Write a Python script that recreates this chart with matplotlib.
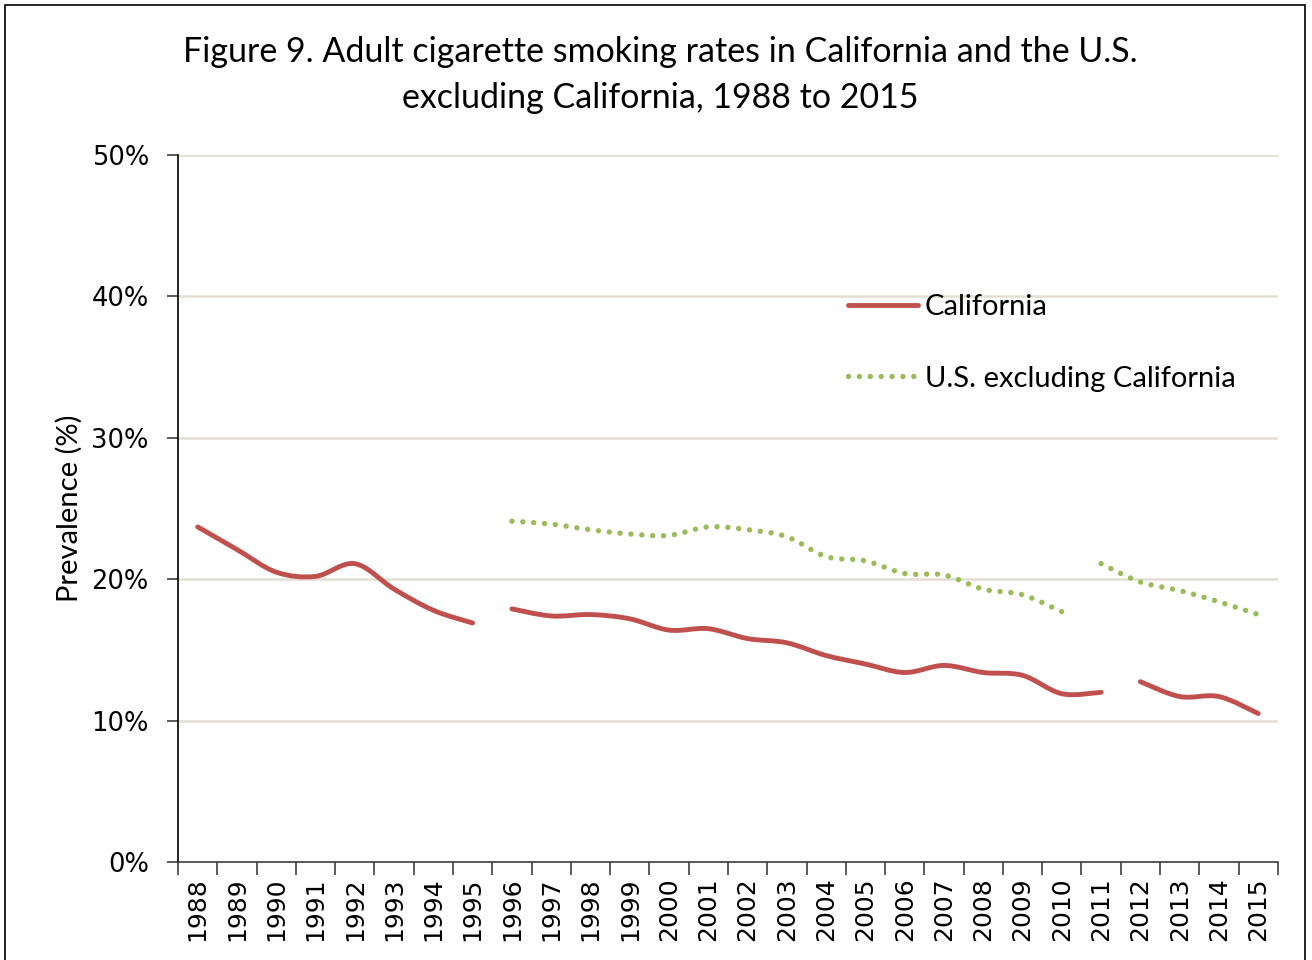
import numpy as np
import matplotlib.pyplot as plt
from matplotlib.path import Path
from matplotlib.patches import PathPatch, Rectangle
from matplotlib.lines import Line2D
from matplotlib.ticker import FuncFormatter

# Data (percent prevalence)
years = list(range(1988, 2016))
california = [23.7, 22.1, 20.5, 20.2, 21.1, 19.3, 17.8, 16.9,
              17.9, 17.4, 17.5, 17.2, 16.4, 16.5, 15.8, 15.5, 14.6, 14.0,
              13.4, 13.9, 13.4, 13.2, 11.9, 12.0,
              12.75, 11.7, 11.7, 10.5]
# segment breaks (survey method changes): index where a new run starts
ca_breaks = [8, 24]
us_excl_ca = [np.nan] * 8 + [24.1, 23.9, 23.5, 23.2, 23.1, 23.7, 23.5, 23.0, 21.6, 21.3,
                             20.4, 20.3, 19.3, 18.9, 17.7,
                             21.1, 19.8, 19.2, 18.4, 17.5]
us_breaks = [23]

red = '#C0504D'
green = '#9BBB59'
grid_col = '#E3DED3'


def runs(values, breaks):
    # split a series into continuous runs of (x, y) pairs
    idx = [i for i, v in enumerate(values) if not np.isnan(v)]
    out, cur = [], []
    for i in idx:
        if cur and (i in breaks or i != cur[-1][0] + 1):
            out.append(cur)
            cur = []
        cur.append((i, values[i]))
    if cur:
        out.append(cur)
    return out


def smooth_path(pts):
    # Catmull-Rom style cubic Bezier path through the points (like Excel smoothing)
    p = np.array(pts, dtype=float)
    ext = np.vstack([p[0], p, p[-1]])
    verts = [tuple(p[0])]
    codes = [Path.MOVETO]
    for i in range(1, len(ext) - 2):
        c1 = ext[i] + (ext[i + 1] - ext[i - 1]) / 6
        c2 = ext[i + 1] - (ext[i + 2] - ext[i]) / 6
        verts += [tuple(c1), tuple(c2), tuple(ext[i + 1])]
        codes += [Path.CURVE4] * 3
    return Path(verts, codes)


dots = (0, (0.01, 2.0))

plt.rcParams['font.family'] = 'DejaVu Sans'
fig = plt.figure(figsize=(13.12, 9.6), dpi=100)
ax = fig.add_axes([0.1357, 0.1021, 0.974 - 0.1357, 0.8385 - 0.1021])

for seg in runs(california, ca_breaks):
    ax.add_patch(PathPatch(smooth_path(seg), fill=False, edgecolor=red, lw=3.5,
                           capstyle='round', joinstyle='round', zorder=3))
for seg in runs(us_excl_ca, us_breaks):
    ax.add_patch(PathPatch(smooth_path(seg), fill=False, edgecolor=green, lw=3.9,
                           linestyle=dots, capstyle='round', zorder=3))

ax.set_xlim(-0.5, len(years) - 0.5)
ax.set_ylim(0, 50)
ax.set_yticks([0, 10, 20, 30, 40, 50])
ax.yaxis.set_major_formatter(FuncFormatter(lambda v, _: f'{v:.0f}%'))
ax.grid(axis='y', color=grid_col, lw=1.8, zorder=0)
ax.set_axisbelow(True)

ax.set_xticks(np.arange(-0.5, len(years)), labels=[''] * (len(years) + 1))
ax.set_xticks(np.arange(len(years)), labels=[str(y) for y in years], minor=True)
ax.tick_params(axis='x', which='major', length=9, width=1.2, color='#404040', direction='out')
ax.tick_params(axis='x', which='minor', length=0, labelsize=18, labelrotation=90, pad=11)
ax.tick_params(axis='y', length=8, width=1.2, color='#404040', labelsize=18.5, pad=13)

for s in ['top', 'right']:
    ax.spines[s].set_visible(False)
ax.spines['left'].set_color('black')
ax.spines['bottom'].set_color('#404040')
ax.spines['left'].set_linewidth(1.2)
ax.spines['bottom'].set_linewidth(1.2)

ax.set_ylabel('Prevalence (%)', fontsize=21, family='Lato', labelpad=6)

fig.suptitle('Figure 9. Adult cigarette smoking rates in California and the U.S.\n'
             'excluding California, 1988 to 2015',
             x=0.503, y=0.963, fontsize=24.5, family='Lato', linespacing=1.55)

handles = [Line2D([], [], color=red, lw=3.5, solid_capstyle='round'),
           Line2D([], [], color=green, lw=3.9, linestyle=dots,
                  dash_capstyle='round')]
ax.legend(handles, ['California', 'U.S. excluding California'],
          loc='upper left', bbox_to_anchor=(0.585, 0.84), frameon=False,
          prop={'family': 'Lato', 'size': 21}, handlelength=2.4,
          handletextpad=0.25, labelspacing=1.55)

fig.patches.append(Rectangle((5 / 1312, -0.02), 1300 / 1312, 1.02 - 5 / 960,
                             transform=fig.transFigure, fill=False,
                             edgecolor='black', lw=1.2))

fig.savefig('out.png', dpi=100)
